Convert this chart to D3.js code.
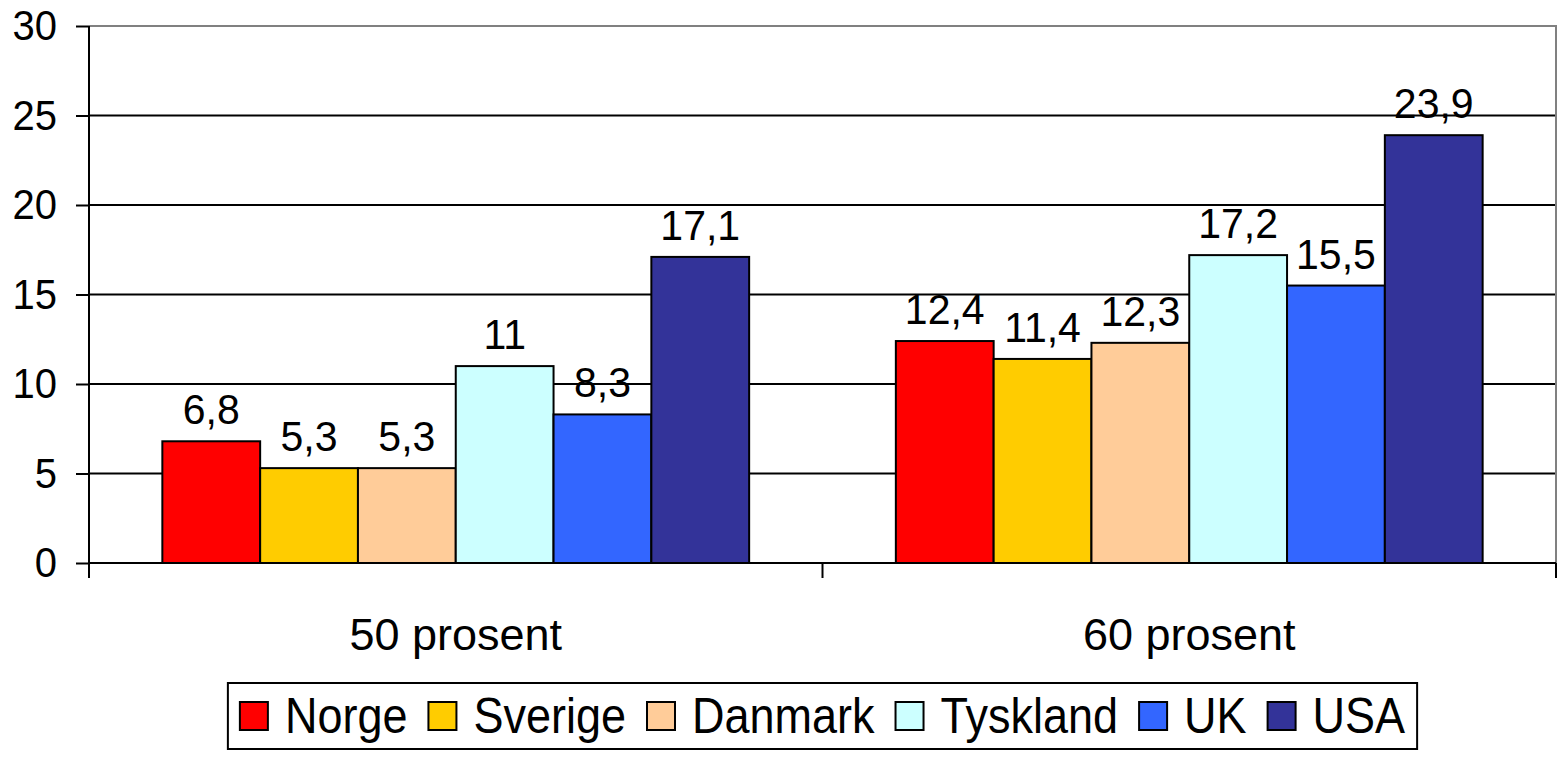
<!DOCTYPE html>
<html>
<head>
<meta charset="utf-8">
<script src="https://cdn.jsdelivr.net/npm/d3@7"></script>
<style>
  html, body { margin: 0; padding: 0; background: #fff; }
  svg { display: block; font-family: "Liberation Sans", Arial, sans-serif; }
</style>
</head>
<body>
<script>
const W = 1558, H = 778;

// data
const categories = ["50 prosent", "60 prosent"];
const countries = ["Norge", "Sverige", "Danmark", "Tyskland", "UK", "USA"];
const colors = ["#ff0000", "#ffcc00", "#ffcc99", "#ccffff", "#3366ff", "#333399"];
const values = {
  "Norge":    [6.8, 12.4],
  "Sverige":  [5.3, 11.4],
  "Danmark":  [5.3, 12.3],
  "Tyskland": [11, 17.2],
  "UK":       [8.3, 15.5],
  "USA":      [17.1, 23.9]
};
const yTicks = [0, 5, 10, 15, 20, 25, 30];

// plot area
const plotL = 89, plotR = 1556, plotT = 26, plotB = 563;

const svg = d3.select("body").append("svg")
  .attr("width", W)
  .attr("height", H);

const x0 = d3.scaleBand().domain(categories).range([plotL, plotR]).padding(0);
const x1 = d3.scaleBand().domain(countries).range([0, x0.bandwidth()])
  .paddingInner(0).paddingOuter(0.75);
const y = d3.scaleLinear().domain([0, 30]).range([plotB, plotT]);
const color = d3.scaleOrdinal().domain(countries).range(colors);
const fmt = v => String(v).replace(".", ",");

// gridlines
svg.append("g")
  .selectAll("line")
  .data(yTicks.filter(d => d > 0 && d < 30))
  .join("line")
  .attr("x1", plotL).attr("x2", plotR)
  .attr("y1", d => y(d)).attr("y2", d => y(d))
  .attr("stroke", "#000").attr("stroke-width", 2);

// plot border (top, right)
svg.append("path")
  .attr("d", `M${plotL},${y(30)}H${plotR}V${plotB}`)
  .attr("fill", "none").attr("stroke", "#808080").attr("stroke-width", 2);

// bars
const groups = svg.append("g")
  .selectAll("g")
  .data(categories)
  .join("g")
  .attr("transform", d => `translate(${x0(d)},0)`);

groups.selectAll("rect")
  .data((c, i) => countries.map(k => ({ k, v: values[k][i] })))
  .join("rect")
  .attr("x", d => x1(d.k))
  .attr("width", x1.bandwidth())
  .attr("y", d => y(d.v))
  .attr("height", d => y(0) - y(d.v))
  .attr("fill", d => color(d.k))
  .attr("stroke", "#000").attr("stroke-width", 2);

// value labels (text a bit taller, like the original)
groups.selectAll("text")
  .data((c, i) => countries.map(k => ({ k, v: values[k][i] })))
  .join("text")
  .attr("transform", d => `translate(${x1(d.k) + x1.bandwidth() / 2},${y(d.v) - 17}) scale(1,1.06)`)
  .attr("text-anchor", "middle")
  .attr("font-size", 41)
  .text(d => fmt(d.v));

// y axis
const gy = svg.append("g")
  .attr("transform", `translate(${plotL},0)`)
  .call(d3.axisLeft(y).tickValues(yTicks).tickSize(13).tickPadding(19));
gy.select(".domain").attr("stroke", "#000").attr("stroke-width", 2)
  .attr("d", `M0,${plotB + 15}V${plotT}`);
gy.selectAll(".tick line").attr("stroke", "#000").attr("stroke-width", 2);
gy.selectAll(".tick text").attr("font-size", 40).attr("fill", "#000")
  .attr("transform", "scale(1,1.06)")
  .attr("font-family", "Liberation Sans, Arial, sans-serif");

// x axis: line with ticks on category boundaries
svg.append("line")
  .attr("x1", plotL).attr("x2", plotR)
  .attr("y1", plotB).attr("y2", plotB)
  .attr("stroke", "#000").attr("stroke-width", 2);
const bounds = categories.map(c => x0(c)).concat([x0(categories[categories.length - 1]) + x0.bandwidth()]);
svg.append("g")
  .selectAll("line")
  .data(bounds)
  .join("line")
  .attr("x1", d => d).attr("x2", d => d)
  .attr("y1", plotB).attr("y2", plotB + 15)
  .attr("stroke", "#000").attr("stroke-width", 2);

svg.append("g")
  .selectAll("text")
  .data(categories)
  .join("text")
  .attr("x", d => x0(d) + x0.bandwidth() / 2)
  .attr("y", 650)
  .attr("text-anchor", "middle")
  .attr("font-size", 45)
  .text(d => d);

// legend
const legend = svg.append("g");
const box = legend.append("rect")
  .attr("fill", "#fff").attr("stroke", "#000").attr("stroke-width", 2);
const sq = 28, gapText = 17, gapItem = 21, legY = 716;
const items = legend.selectAll("g.item")
  .data(countries)
  .join("g")
  .attr("class", "item");
items.append("rect")
  .attr("width", sq).attr("height", sq)
  .attr("y", legY - sq / 2)
  .attr("fill", d => color(d))
  .attr("stroke", "#000").attr("stroke-width", 2);
items.append("text")
  .attr("transform", `translate(${sq + gapText},${legY + 17}) scale(1,1.1)`)
  .attr("font-size", 45)
  .text(d => d);

const offsets = [];
let cx = 0;
items.each(function () {
  offsets.push(cx);
  cx += sq + gapText + d3.select(this).select("text").node().getComputedTextLength() + gapItem;
});
const legW = cx - gapItem;
const legX = (plotL + plotR) / 2 - legW / 2;
items.attr("transform", (d, i) => `translate(${legX + offsets[i]},0)`);
box.attr("x", legX - 12).attr("width", legW + 24)
  .attr("y", legY - 33).attr("height", 66);
</script>
</body>
</html>
